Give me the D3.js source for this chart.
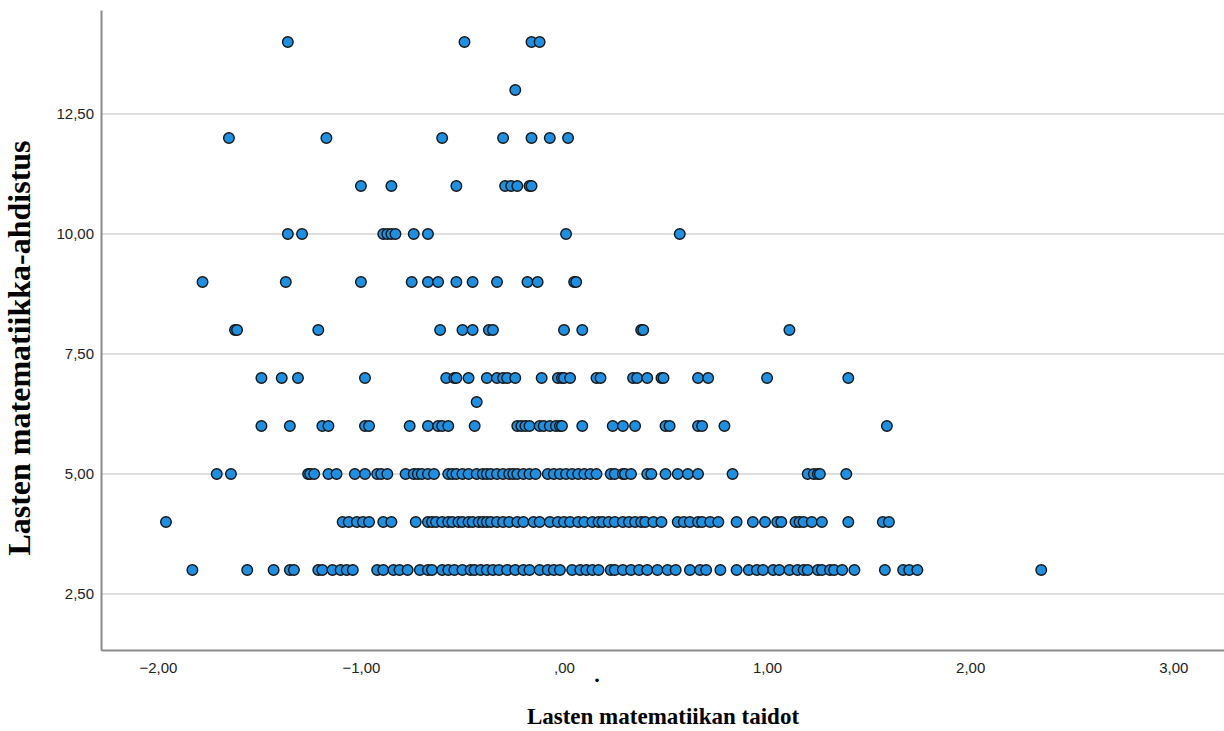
<!DOCTYPE html>
<html>
<head>
<meta charset="utf-8">
<script src="https://cdn.jsdelivr.net/npm/d3@7"></script>
<style>
  body { margin: 0; background: #fff; }
  .tick text { font-family: "Liberation Sans", Arial, sans-serif; font-size: 15px; fill: #222; }
  .title { font-family: "Liberation Serif", "Times New Roman", serif; font-weight: bold; fill: #000; }
</style>
</head>
<body>
<svg id="chart" width="1224" height="731"></svg>
<script>
// x values (Lasten matematiikan taidot) grouped by anxiety score
var yLevels = [14, 13, 12, 11, 10, 9, 8, 7, 6.5, 6, 5, 4, 3];

var row14 = [-1.36, -0.49, -0.16, -0.12];
var row13 = [-0.24];
var row12 = [-1.65, -1.17, -0.60, -0.30, -0.16, -0.07, 0.02];
var row11 = [-1.00, -0.85, -0.53, -0.29, -0.26, -0.23, -0.17, -0.16];
var row10 = [-1.36, -1.29, -0.89, -0.87, -0.85, -0.83, -0.74, -0.67, 0.01, 0.57];
var row9 = [-1.78, -1.37, -1.00, -0.75, -0.67, -0.62, -0.53, -0.45, -0.33, -0.18, -0.13, 0.05, 0.06];
var row8 = [-1.62, -1.61, -1.21, -0.61, -0.50, -0.45, -0.37, -0.35, 0.00, 0.09, 0.38, 0.39, 1.11];
var row7 = [-1.49, -1.39, -1.31, -0.98, -0.58, -0.54, -0.53, -0.47, -0.38, -0.33,
            -0.30, -0.28, -0.24, -0.11, -0.03, -0.01, 0.00, 0.03, 0.16, 0.18, 0.34, 0.36,
            0.41, 0.48, 0.49, 0.66, 0.71, 1.00, 1.40];
var row65 = [-0.43];
var row6 = [-1.49, -1.35, -1.19, -1.16, -0.98, -0.96, -0.76, -0.67, -0.62, -0.60, -0.57, -0.44,
            -0.23, -0.21, -0.19, -0.17, -0.12, -0.10, -0.07, -0.04, -0.02, -0.01, 0.09, 0.24,
            0.29, 0.35, 0.50, 0.52, 0.66, 0.68, 0.79, 1.59];
var row5 = [-1.71, -1.64, -1.26, -1.25, -1.23, -1.16, -1.12, -1.03, -0.98, -0.92, -0.90, -0.87, -0.78,
            -0.74, -0.72, -0.70, -0.67, -0.64, -0.57, -0.55, -0.53, -0.50, -0.47, -0.43, -0.40, -0.38, -0.36,
            -0.33, -0.30, -0.27, -0.25, -0.23, -0.20, -0.17, -0.14, -0.08, -0.05, -0.02, 0.01, 0.04,
            0.07, 0.10, 0.13, 0.16, 0.23, 0.25, 0.29, 0.30, 0.33, 0.41, 0.43, 0.50, 0.56, 0.61,
            0.66, 0.83, 1.20, 1.23, 1.25, 1.26, 1.39];
var row4 = [-1.96, -1.09, -1.06, -1.02, -0.99, -0.96, -0.89, -0.85, -0.73, -0.67, -0.65, -0.63,
            -0.60, -0.57, -0.55, -0.52, -0.50, -0.47, -0.45, -0.42, -0.40, -0.38, -0.36, -0.33, -0.30,
            -0.27, -0.23, -0.20, -0.15, -0.12, -0.07, -0.03, 0.00, 0.03, 0.07, 0.10, 0.14, 0.17,
            0.19, 0.22, 0.25, 0.29, 0.32, 0.35, 0.38, 0.40, 0.44, 0.48, 0.56, 0.59, 0.62, 0.66, 0.68,
            0.72, 0.76, 0.85, 0.93, 0.99, 1.05, 1.07, 1.14, 1.16, 1.18, 1.22, 1.27, 1.40, 1.57, 1.60];
var row3 = [-1.83, -1.56, -1.43, -1.35, -1.33, -1.21, -1.19, -1.14, -1.10, -1.07, -1.04, -0.92,
            -0.89, -0.84, -0.81, -0.77, -0.71, -0.67, -0.65, -0.60, -0.57, -0.54, -0.50, -0.46,
            -0.44, -0.41, -0.38, -0.35, -0.32, -0.28, -0.24, -0.20, -0.17, -0.12, -0.08, -0.05, -0.02, 0.04,
            0.08, 0.11, 0.14, 0.17, 0.23, 0.25, 0.29, 0.33, 0.37, 0.41, 0.46, 0.51, 0.55, 0.62, 0.67, 0.70,
            0.77, 0.85, 0.91, 0.95, 0.98, 1.03, 1.06, 1.11, 1.15, 1.18, 1.20, 1.25, 1.27, 1.31,
            1.33, 1.37, 1.43, 1.58, 1.67, 1.70, 1.74, 2.35];

var rows = [row14, row13, row12, row11, row10, row9, row8, row7, row65, row6, row5, row4, row3];

var xTicks = [-2, -1, 0, 1, 2, 3];
var yTicks = [2.5, 5, 7.5, 10, 12.5];

var xTitle = "Lasten matematiikan taidot";
var yTitle = "Lasten matematiikka-ahdistus";

var width = 1224, height = 731;
var margin = {top: 10, right: 0, bottom: 81, left: 101};

var svg = d3.select("#chart");

var x = d3.scaleLinear()
    .domain([-2.28, 3.25])
    .range([margin.left, width - margin.right]);

var y = d3.scaleLinear()
    .domain([1.333, 14.667])
    .range([height - margin.bottom, margin.top]);

// SPSS style numbers: comma decimals, no leading zero
var fmt = function(v) {
    var s = d3.format(".2f")(v).replace(".", ",");
    if (s.indexOf("0,") === 0) s = s.slice(1);
    return s;
};

// horizontal grid
svg.append("g")
    .selectAll("line")
    .data(yTicks)
    .join("line")
    .attr("x1", margin.left)
    .attr("x2", width - margin.right)
    .attr("y1", function(d) { return y(d); })
    .attr("y2", function(d) { return y(d); })
    .attr("stroke", "#d4d4d4")
    .attr("stroke-width", 1.6);

var xAxis = svg.append("g")
    .attr("transform", "translate(0," + (height - margin.bottom) + ")")
    .call(d3.axisBottom(x).tickValues(xTicks).tickFormat(fmt).tickSize(0).tickPadding(12));

var yAxis = svg.append("g")
    .attr("transform", "translate(" + margin.left + ",0)")
    .call(d3.axisLeft(y).tickValues(yTicks).tickFormat(fmt).tickSize(0).tickPadding(7));

[xAxis, yAxis].forEach(function(a) {
    a.select(".domain").attr("stroke", "#8a8a8a").attr("stroke-width", 2);
});

// points
var points = [];
rows.forEach(function(r, i) {
    r.forEach(function(v) { points.push({x: v, y: yLevels[i]}); });
});

svg.append("g")
    .selectAll("circle")
    .data(points)
    .join("circle")
    .attr("cx", function(d) { return x(d.x); })
    .attr("cy", function(d) { return y(d.y); })
    .attr("r", 5.3)
    .attr("fill", "#1e8fe1")
    .attr("stroke", "#161616")
    .attr("stroke-width", 1.4);

// titles
svg.append("text")
    .attr("class", "title")
    .attr("x", 663)
    .attr("y", 724)
    .attr("text-anchor", "middle")
    .style("font-size", "23px")
    .text(xTitle);

svg.append("text")
    .attr("class", "title")
    .attr("transform", "translate(30,348) rotate(-90)")
    .attr("text-anchor", "middle")
    .style("font-size", "32px")
    .text(yTitle);

// stray period under the axis
svg.append("text")
    .attr("class", "title")
    .attr("x", 597)
    .attr("y", 682)
    .attr("text-anchor", "middle")
    .style("font-size", "22px")
    .text(".");
</script>
</body>
</html>
